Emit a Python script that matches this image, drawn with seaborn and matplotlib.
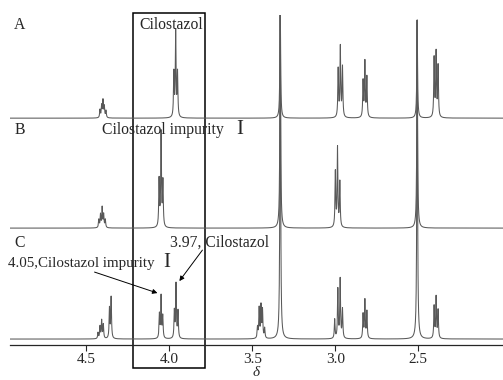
import numpy as np
import pandas as pd
import matplotlib
matplotlib.use("Agg")
import matplotlib.pyplot as plt
import seaborn as sns
from matplotlib.patches import Rectangle

# Peaks: shift (ppm) and height above the trace baseline (px)
shift_a = [4.418, 4.408, 4.400, 4.392, 4.382,
           3.973, 3.962, 3.951, 3.332,
           2.983, 2.970, 2.957, 2.833, 2.822, 2.810,
           2.507, 2.405, 2.393, 2.381]
height_a = [8, 12, 17, 11, 7,
            44, 85, 44, 115,
            48, 70, 50, 36, 55, 40,
            98, 59, 64, 51]

shift_b = [4.425, 4.415, 4.405, 4.396, 4.386,
           4.062, 4.050, 4.039, 3.332,
           3.000, 2.987, 2.973, 2.507]
height_b = [8, 13, 20, 13, 8,
            47, 94, 45, 230,
            55, 79, 45, 208]

shift_c = [4.430, 4.418, 4.408, 4.398, 4.361, 4.351,
           4.060, 4.050, 4.040, 3.970, 3.960, 3.948,
           3.469, 3.459, 3.448, 3.439, 3.426, 3.332,
           3.004, 2.985, 2.971, 2.957, 2.833, 2.822, 2.810,
           2.507, 2.405, 2.393, 2.381]
height_c = [6, 12, 18, 14, 30, 41,
            24, 42, 22, 27, 54, 27,
            11, 30, 32, 28, 10, 340,
            19, 49, 59, 29, 24, 38, 27,
            319, 32, 41, 28]

labels = ["A", "B", "C"]
baselines = [227, 117, 6]
ticks = [4.5, 4.0, 3.5, 3.0, 2.5]


def spectrum(ppm, shifts, heights, base, hw=0.0026):
    y = np.full_like(ppm, float(base))
    for s, h in zip(shifts, heights):
        y += h * hw ** 2 / ((ppm - s) ** 2 + hw ** 2)
    return y


ppm = np.arange(1.99, 4.97, 0.0002)
frames = []
for lab, sh, hg, b in zip(labels, [shift_a, shift_b, shift_c],
                          [height_a, height_b, height_c], baselines):
    frames.append(pd.DataFrame({"ppm": ppm, "y": spectrum(ppm, sh, hg, b), "trace": lab}))
df = pd.concat(frames, ignore_index=True)

sns.set_style("white")
plt.rcParams["font.family"] = ["Liberation Serif", "DejaVu Serif"]

fig = plt.figure(figsize=(5.03, 3.80), dpi=100)
ax = fig.add_axes([0.02, 0.092, 0.98, 0.868])

for lab in labels:
    sub = df[df["trace"] == lab]
    sns.lineplot(data=sub, x="ppm", y="y", ax=ax, color="#595959", lw=0.75,
                 estimator=None, sort=False)

ax.set_xlim(4.96, 1.99)
ax.set_ylim(0, 330)
ax.set_yticks([])
ax.set_ylabel("")
for side in ["top", "left", "right"]:
    ax.spines[side].set_visible(False)
ax.spines["bottom"].set_linewidth(0.9)
ax.set_xticks(ticks)
ax.set_xticklabels([f"{t:.1f}" for t in ticks])
ax.tick_params(axis="x", direction="out", length=4, width=0.8, labelsize=11, pad=2, bottom=True)
ax.set_xlabel("δ", style="italic", fontsize=11, labelpad=0)

# box around the 3.9-4.1 region
ax.add_patch(Rectangle((3.787, -23), 4.222 - 3.787, 355, fill=False, ec="black",
                       lw=1.1, clip_on=False))

txt = dict(fontsize=11.3, va="center", ha="left")
ax.text(4.935, 320, "A", **txt)
ax.text(4.935, 215, "B", **txt)
ax.text(4.935, 102, "C", **txt)
ax.text(4.18, 320, "Cilostazol", **txt)
ax.text(4.405, 215, "Cilostazol impurity", **txt)
ax.text(3.597, 216, "I", fontsize=15, va="center", ha="left")
ax.text(3.994, 102, "3.97, Cilostazol", **txt)
ax.text(4.975, 82, "4.05,Cilostazol impurity", fontsize=10.8, va="center", ha="left")
ax.text(4.040, 83, "I", fontsize=15, va="center", ha="left")

arrow = dict(arrowstyle="-|>", color="black", lw=0.7, mutation_scale=7, shrinkA=0, shrinkB=0)
ax.annotate("", xy=(4.072, 52), xytext=(4.451, 73), arrowprops=arrow)
ax.annotate("", xy=(3.940, 64), xytext=(3.801, 95), arrowprops=arrow)

fig.savefig("out.png", dpi=100)
